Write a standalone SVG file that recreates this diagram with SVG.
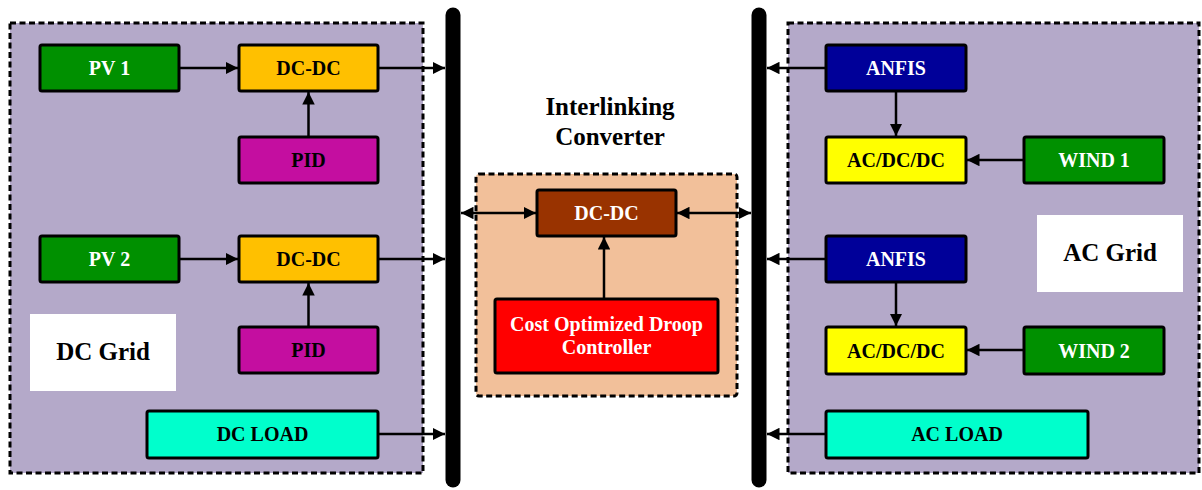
<svg xmlns="http://www.w3.org/2000/svg" width="1202" height="490" viewBox="0 0 1202 490">
  <style>
    .zone { stroke: #000; stroke-width: 3; stroke-dasharray: 6 3.5; }
    .box { stroke: #000; stroke-width: 3; }
    .lbl { font-family: "Liberation Serif", "Times New Roman", serif; font-weight: bold; font-size: 20px; text-anchor: middle; }
    .big { font-family: "Liberation Serif", "Times New Roman", serif; font-weight: bold; font-size: 25px; text-anchor: middle; fill: #000; }
    .wt { fill: #fff; }
    .bk { fill: #000; }
    .bus { stroke: #000; stroke-width: 15; stroke-linecap: round; }
    .wire { stroke: #000; stroke-width: 2.5; fill: none; marker-end: url(#ah); }
    .wire2 { stroke: #000; stroke-width: 2.5; fill: none; marker-end: url(#ah); marker-start: url(#ahs); }
  </style>
  <defs>
    <marker id="ah" viewBox="0 0 10 10" refX="10" refY="5" markerWidth="5" markerHeight="5" orient="auto" markerUnits="strokeWidth">
      <path d="M0,0 L10,5 L0,10 Z" fill="#000"/>
    </marker>
    <marker id="ahs" viewBox="0 0 10 10" refX="0" refY="5" markerWidth="5" markerHeight="5" orient="auto" markerUnits="strokeWidth">
      <path d="M10,0 L0,5 L10,10 Z" fill="#000"/>
    </marker>
  </defs>

  <rect width="1202" height="490" fill="#fff"/>

  <!-- DC grid zone -->
  <g id="dc-zone">
    <rect class="zone" x="10" y="23" width="413" height="450" fill="#B4A9C9"/>
    <rect x="30" y="314" width="146" height="77" fill="#fff"/>
    <text class="big" x="103" y="360">DC Grid</text>
  </g>

  <!-- AC grid zone -->
  <g id="ac-zone">
    <rect class="zone" x="788" y="23" width="411" height="450" fill="#B4A9C9"/>
    <rect x="1037" y="215" width="146" height="77" fill="#fff"/>
    <text class="big" x="1110" y="261">AC Grid</text>
  </g>

  <!-- Interlinking converter zone -->
  <g id="ic-zone">
    <text class="big" x="610" y="115">Interlinking</text>
    <text class="big" x="610" y="145">Converter</text>
    <rect class="zone" x="476" y="174" width="261" height="222" rx="3" fill="#F2C09A"/>
  </g>

  <!-- Buses -->
  <g id="dc-bus"><line class="bus" x1="453" y1="15" x2="453" y2="480"/></g>
  <g id="ac-bus"><line class="bus" x1="759" y1="15" x2="759" y2="480"/></g>

  <!-- DC side nodes -->
  <g id="pv1"><rect class="box" x="40" y="45" width="139" height="46" rx="2" fill="#009000"/><text class="lbl wt" x="109.5" y="75">PV 1</text></g>
  <g id="dcdc1"><rect class="box" x="239" y="45" width="139" height="46" rx="2" fill="#FFC000"/><text class="lbl bk" x="308.5" y="75">DC-DC</text></g>
  <g id="pid1"><rect class="box" x="239" y="137" width="139" height="46" rx="2" fill="#C40EA0"/><text class="lbl bk" x="308.5" y="167">PID</text></g>
  <g id="pv2"><rect class="box" x="40" y="236" width="139" height="46" rx="2" fill="#009000"/><text class="lbl wt" x="109.5" y="266">PV 2</text></g>
  <g id="dcdc2"><rect class="box" x="239" y="236" width="139" height="46" rx="2" fill="#FFC000"/><text class="lbl bk" x="308.5" y="266">DC-DC</text></g>
  <g id="pid2"><rect class="box" x="239" y="327" width="139" height="46" rx="2" fill="#C40EA0"/><text class="lbl bk" x="308.5" y="357">PID</text></g>
  <g id="dcload"><rect class="box" x="147" y="411" width="231" height="47" rx="2" fill="#00FFCC"/><text class="lbl bk" x="262.5" y="441">DC LOAD</text></g>

  <!-- Interlinking nodes -->
  <g id="ic-dcdc"><rect class="box" x="537" y="190" width="139" height="46" rx="2" fill="#993300"/><text class="lbl wt" x="606.5" y="220">DC-DC</text></g>
  <g id="droop"><rect class="box" x="495" y="299" width="223" height="74" rx="2" fill="#FF0000"/><text class="lbl wt" x="606.5" y="331">Cost Optimized Droop</text><text class="lbl wt" x="606.5" y="354">Controller</text></g>

  <!-- AC side nodes -->
  <g id="anfis1"><rect class="box" x="826" y="45" width="140" height="46" rx="2" fill="#000099"/><text class="lbl wt" x="896" y="75">ANFIS</text></g>
  <g id="acdcdc1"><rect class="box" x="826" y="137" width="140" height="46" rx="2" fill="#FFFF00"/><text class="lbl bk" x="896" y="167">AC/DC/DC</text></g>
  <g id="wind1"><rect class="box" x="1024" y="137" width="140" height="46" rx="2" fill="#009000"/><text class="lbl wt" x="1094" y="167">WIND 1</text></g>
  <g id="anfis2"><rect class="box" x="826" y="236" width="140" height="46" rx="2" fill="#000099"/><text class="lbl wt" x="896" y="266">ANFIS</text></g>
  <g id="acdcdc2"><rect class="box" x="826" y="327" width="140" height="47" rx="2" fill="#FFFF00"/><text class="lbl bk" x="896" y="358">AC/DC/DC</text></g>
  <g id="wind2"><rect class="box" x="1024" y="327" width="140" height="47" rx="2" fill="#009000"/><text class="lbl wt" x="1094" y="358">WIND 2</text></g>
  <g id="acload"><rect class="box" x="826" y="411" width="262" height="47" rx="2" fill="#00FFCC"/><text class="lbl bk" x="957" y="441">AC LOAD</text></g>

  <!-- Connectors -->
  <g id="connectors">
    <line class="wire" x1="179" y1="68" x2="238" y2="68"/>
    <line class="wire" x1="378" y1="68" x2="445" y2="68"/>
    <line class="wire" x1="308.5" y1="137" x2="308.5" y2="92"/>
    <line class="wire" x1="179" y1="259" x2="238" y2="259"/>
    <line class="wire" x1="378" y1="259" x2="445" y2="259"/>
    <line class="wire" x1="308.5" y1="327" x2="308.5" y2="283"/>
    <line class="wire" x1="378" y1="434" x2="445" y2="434"/>

    <line class="wire2" x1="461" y1="213" x2="536" y2="213"/>
    <line class="wire2" x1="677" y1="213" x2="751" y2="213"/>
    <line class="wire" x1="604" y1="299" x2="604" y2="237"/>

    <line class="wire" x1="826" y1="68" x2="767" y2="68"/>
    <line class="wire" x1="896" y1="91" x2="896" y2="136"/>
    <line class="wire" x1="1024" y1="160" x2="967" y2="160"/>
    <line class="wire" x1="826" y1="259" x2="767" y2="259"/>
    <line class="wire" x1="896" y1="282" x2="896" y2="326"/>
    <line class="wire" x1="1024" y1="350" x2="967" y2="350"/>
    <line class="wire" x1="826" y1="434" x2="767" y2="434"/>
  </g>
</svg>
